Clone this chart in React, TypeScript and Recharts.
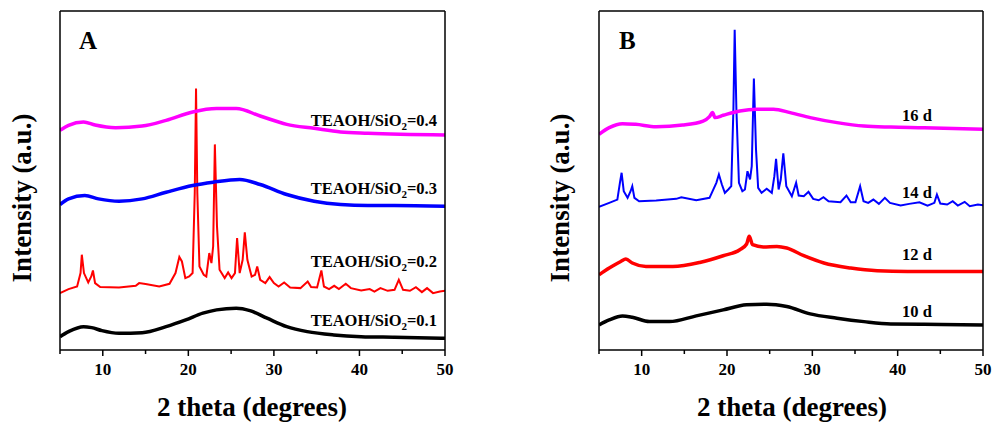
import { LineChart, Line, XAxis, YAxis } from 'recharts';

// 2 theta (deg) and intensity (a.u., offset stacked)
// Panel A: TEAOH/SiO2 ratio
const thetaA1 = [5, 6, 7.75, 8.7, 9.9, 11.9, 14.6, 17.4, 19.7, 21.7, 23.3, 25.6, 27.2, 29.2, 31.5, 33.9, 37, 40.2, 44.1, 50];
const intA1 = [12.3, 17.3, 22.3, 21.3, 18.3, 15.7, 16.3, 22.3, 29, 35.7, 39, 40.7, 38.3, 30.7, 22.3, 17.3, 14, 12.3, 11.7, 10.7];

const thetaA2 = [
  5, 6, 7, 7.4, 7.55, 7.8, 8.3, 8.65, 8.85, 9.1, 9.7, 11.9, 13.85, 14.25, 15, 16.6, 17.8, 18.5, 18.95, 19.25,
  19.65, 20.1, 20.5, 20.75, 20.9, 21.05, 21.3, 21.8, 22.1, 22.45, 22.7, 22.9, 23.1, 23.35, 23.65, 24.25, 24.65, 25.05,
  25.45, 25.7, 26, 26.35, 26.6, 26.9, 27.4, 27.8, 28.05, 28.4, 29, 29.5, 30, 30.55, 31.2, 31.9, 33.1, 33.95, 34.35,
  35.05, 35.55, 35.85, 36.45, 37.05, 37.6, 38.4, 39, 40.2, 41.2, 41.75, 42.45, 43.3, 44.1, 44.6, 45.1, 45.9, 46.6,
  47.3, 47.9, 48.6, 49.4, 50,
];
const intA2 = [
  55.7, 59.7, 62.3, 75.7, 94, 75.7, 66.3, 72.3, 78.3, 65.7, 61.7, 61.3, 63, 65.7, 64.7, 62.3, 65, 75.7, 91.7, 87.3,
  70.7, 72.3, 75.7, 155.7, 259.7, 155.7, 82.3, 74, 72.3, 95.7, 85.7, 102.3, 204, 122.3, 79, 70.7, 76.3, 70.7,
  75.7, 110.7, 75.7, 89, 116.3, 89, 72.3, 74, 82.3, 69, 65.7, 71.7, 65.7, 62.3, 66.3, 61.3, 60.7, 67.3, 61.7,
  61.3, 78.3, 62.3, 59.7, 63, 59.7, 65, 60.7, 58.3, 59.7, 57.3, 60.7, 58, 59, 69, 59, 58, 61.7,
  56.7, 60.7, 55.7, 57.3, 58,
];

const thetaA3 = [5, 6, 7.9, 9.5, 11.9, 14.6, 17.4, 20.5, 22.9, 26, 28.4, 31.5, 34.7, 37.8, 41, 44.1, 50];
const intA3 = [144, 149.7, 153, 149.7, 147.3, 149.7, 156.3, 163, 166.3, 169, 164, 154, 147.3, 144, 143, 143, 142.3];

const thetaA4 = [5, 6, 7.75, 9.1, 11.5, 14.6, 17.4, 20.5, 23.3, 25.6, 28.4, 31.5, 34.7, 37.8, 41, 50];
const intA4 = [218, 223, 226.3, 223.3, 220.7, 222.3, 228, 236.3, 239.7, 239.7, 232.3, 224, 220, 216.3, 215, 213.3];

// Panel B: crystallization time
const thetaB1 = [5, 6.2, 7.75, 8.9, 10.9, 13.25, 16.4, 19.55, 22.3, 24.65, 27, 29.75, 32.9, 36.05, 39.2, 43.1, 50];
const intB1 = [24, 29, 33, 31.7, 27.3, 27.3, 33, 39, 44, 44.7, 42.3, 35, 30.7, 27.3, 25, 24.7, 24];

const thetaB2 = [5, 6.2, 7.55, 8.15, 8.9, 10.5, 13.65, 16.8, 19.55, 21.5, 22.3, 22.6, 23, 24.25, 25.85, 27, 29, 31.35, 34.5, 37.6, 41.15, 50];
const intB2 = [74, 80.7, 87.3, 89.7, 85.7, 82.3, 82.3, 86.3, 93, 99, 104.7, 112.3, 104, 101.7, 102.3, 100.7, 93, 85.7, 80.7, 78, 77.3, 77.3];

const thetaB3 = [
  5, 6.2, 7.15, 7.45, 7.65, 7.9, 8.35, 8.7, 8.9, 9.15, 9.7, 11.7, 14.05, 14.65, 16.4, 17.95, 18.75, 19.05, 19.4,
  19.75, 20.15, 20.5, 20.75, 20.9, 21.1, 21.4, 21.8, 22.1, 22.4, 22.7, 22.9, 23.15, 23.4, 23.65, 24.05, 24.65, 25.25,
  25.55, 25.75, 26.05, 26.3, 26.6, 26.95, 27.6, 28.1, 28.4, 29, 29.55, 30.1, 30.75, 31.3, 31.9, 33.3, 34, 34.5,
  35.05, 35.6, 36, 36.55, 37.15, 37.8, 38.5, 39.1, 40.35, 41.35, 42.55, 43.5, 44.3, 44.6, 45, 45.8, 46.45, 47.05,
  47.85, 48.45, 49.4, 50,
];
const intB3 = [
  141.7, 145.7, 149, 165.7, 175.7, 157.3, 150.7, 157.3, 162.3, 150.7, 147.3, 148, 149.7, 151.3, 148.3, 150.7, 165.7, 174, 164,
  155.7, 159, 162.3, 239, 318.3, 239, 165.7, 157.3, 159, 177.3, 169, 182.3, 269.7, 199, 160.7, 155.7, 159.7, 155.7,
  172.3, 189.7, 159, 169, 195, 162.3, 152.3, 165.7, 153, 152.3, 156.7, 149.7, 148.3, 151.3, 147.3, 146.3, 153, 146.3,
  146.3, 162.3, 147.3, 145.7, 149, 144.7, 150.7, 145.7, 143, 144.7, 146.3, 143, 145.7, 154, 145, 144, 147.3, 143,
  146.7, 142.3, 144, 143.3,
];

const thetaB4 = [5, 6.2, 7.75, 9.3, 11.7, 14.8, 17.2, 17.95, 18.3, 18.6, 19.55, 21.5, 23.5, 25.45, 27.4, 29.75, 32.9, 36.05, 39.2, 43.1, 50];
const intB4 = [214, 220.7, 224.7, 224, 221.7, 223.3, 227.3, 231.7, 235.7, 230.7, 233, 237.3, 239, 239, 235.7, 230.7, 225.7, 222.3, 221.3, 220.7, 219];

const xBottomTicks = [5, 10, 15, 20, 25, 30, 35, 40, 45, 50];
const xTopTicks = [10, 15, 20, 25, 30, 35, 40, 45];
const yTicksA = [8, 86, 165, 243, 321];
const yTicksB = [0, 67, 135, 202, 269];

const labelsA = ['TEAOH/SiO|2|=0.1', 'TEAOH/SiO|2|=0.2', 'TEAOH/SiO|2|=0.3', 'TEAOH/SiO|2|=0.4'];
const labelsB = ['10 d', '12 d', '14 d', '16 d'];
const COLORS = ['#000000', '#ff0000', '#0000ff', '#ff00ff'];

const zip = (xs: number[], ys: number[]) => xs.map((x, i) => ({ x, y: ys[i] }));

const seriesA = [zip(thetaA1, intA1), zip(thetaA2, intA2), zip(thetaA3, intA3), zip(thetaA4, intA4)];
const seriesB = [zip(thetaB1, intB1), zip(thetaB2, intB2), zip(thetaB3, intB3), zip(thetaB4, intB4)];

const FONT = '"Liberation Serif", "Times New Roman", serif';
const axisStroke = { stroke: '#000', strokeWidth: 1.5 };

// bottom ticks: long + label on multiples of 10, short otherwise
function BottomTick(props: any) {
  const { x, y, payload } = props;
  const major = payload.value % 10 === 0;
  const axisY = y - 13;
  return (
    <g>
      <line x1={x} x2={x} y1={axisY} y2={axisY + (major ? 6 : 4)} stroke="#000" strokeWidth={1.5} />
      {major && (
        <text x={x} y={y} dy="0.71em" textAnchor="middle" fontFamily={FONT} fontWeight={700} fontSize={17} fill="#000">
          {payload.value}
        </text>
      )}
    </g>
  );
}

function Panel({
  series,
  yTicks,
  width,
  margin,
  peaked,
}: {
  series: { x: number; y: number }[][];
  yTicks: number[];
  width: number;
  margin: { top: number; right: number; bottom: number; left: number };
  peaked: number;
}) {
  return (
    <LineChart width={width} height={423} margin={margin}>
      <XAxis
        xAxisId="main"
        type="number"
        dataKey="x"
        domain={[5, 50]}
        ticks={xBottomTicks}
        interval={0}
        height={1}
        tickSize={6}
        tickMargin={7}
        tick={<BottomTick />}
        tickLine={false}
        axisLine={axisStroke}
        allowDataOverflow
      />
      <XAxis
        xAxisId="top"
        orientation="top"
        type="number"
        dataKey="x"
        domain={[5, 50]}
        ticks={xTopTicks}
        interval={0}
        height={1}
        mirror
        tickSize={4}
        tick={false}
        axisLine={axisStroke}
        tickLine={axisStroke}
        allowDataOverflow
      />
      <YAxis
        yAxisId="left"
        type="number"
        domain={[-1, 337]}
        ticks={yTicks}
        interval={0}
        width={1}
        mirror
        tickSize={4}
        tick={false}
        axisLine={axisStroke}
        tickLine={axisStroke}
        allowDataOverflow
      />
      <YAxis
        yAxisId="right"
        orientation="right"
        type="number"
        domain={[-1, 337]}
        ticks={yTicks}
        interval={0}
        width={1}
        mirror
        tickSize={4}
        tick={false}
        axisLine={axisStroke}
        tickLine={axisStroke}
        allowDataOverflow
      />
      {series.map((d, i) => (
        <Line
          key={i}
          data={d}
          xAxisId="main"
          yAxisId="left"
          dataKey="y"
          type={i === peaked ? 'linear' : 'monotone'}
          stroke={COLORS[i]}
          strokeWidth={i === peaked ? 2 : 3.5}
          dot={false}
          isAnimationActive={false}
        />
      ))}
    </LineChart>
  );
}

function SeriesLabel({ text, style }: { text: string; style: React.CSSProperties }) {
  const parts = text.split('|');
  return (
    <div
      style={{
        position: 'absolute',
        fontFamily: FONT,
        fontWeight: 700,
        fontSize: 16.5,
        lineHeight: '17px',
        whiteSpace: 'nowrap',
        ...style,
      }}
    >
      {parts[0]}
      {parts[1] && <span style={{ fontSize: 11, verticalAlign: -4 }}>{parts[1]}</span>}
      {parts[2]}
    </div>
  );
}

const titleStyle: React.CSSProperties = {
  position: 'absolute',
  fontFamily: FONT,
  fontWeight: 700,
  whiteSpace: 'nowrap',
  color: '#000',
};

export default function App() {
  const labelTopsA = [312, 253, 180, 112];
  const labelTopsB = [303, 246, 184, 107];
  return (
    <div style={{ position: 'absolute', left: 0, top: 0, width: 995, height: 423, background: '#fff' }}>
      <div style={{ position: 'absolute', left: 0, top: 0 }}>
        <Panel series={seriesA} yTicks={yTicksA} width={500} margin={{ top: 11, right: 55, bottom: 72, left: 60 }} peaked={1} />
      </div>
      <div style={{ position: 'absolute', left: 500, top: 0 }}>
        <Panel series={seriesB} yTicks={yTicksB} width={495} margin={{ top: 11, right: 12, bottom: 72, left: 99 }} peaked={2} />
      </div>

      {labelsA.map((t, i) => (
        <SeriesLabel key={t} text={t} style={{ right: 995 - 437, top: labelTopsA[i] }} />
      ))}
      {labelsB.map((t, i) => (
        <SeriesLabel key={t} text={t} style={{ left: 902, top: labelTopsB[i] }} />
      ))}

      <div style={{ ...titleStyle, left: 79, top: 27, fontSize: 25 }}>A</div>
      <div style={{ ...titleStyle, left: 619, top: 27, fontSize: 25 }}>B</div>

      <div style={{ ...titleStyle, left: 252, top: 407, fontSize: 27, transform: 'translate(-50%, -50%)' }}>2 theta (degrees)</div>
      <div style={{ ...titleStyle, left: 792, top: 407, fontSize: 27, transform: 'translate(-50%, -50%)' }}>2 theta (degrees)</div>

      <div style={{ ...titleStyle, left: 22, top: 198, fontSize: 27, transform: 'translate(-50%, -50%) rotate(-90deg)' }}>Intensity (a.u.)</div>
      <div style={{ ...titleStyle, left: 560, top: 198, fontSize: 27, transform: 'translate(-50%, -50%) rotate(-90deg)' }}>Intensity (a.u.)</div>
    </div>
  );
}
